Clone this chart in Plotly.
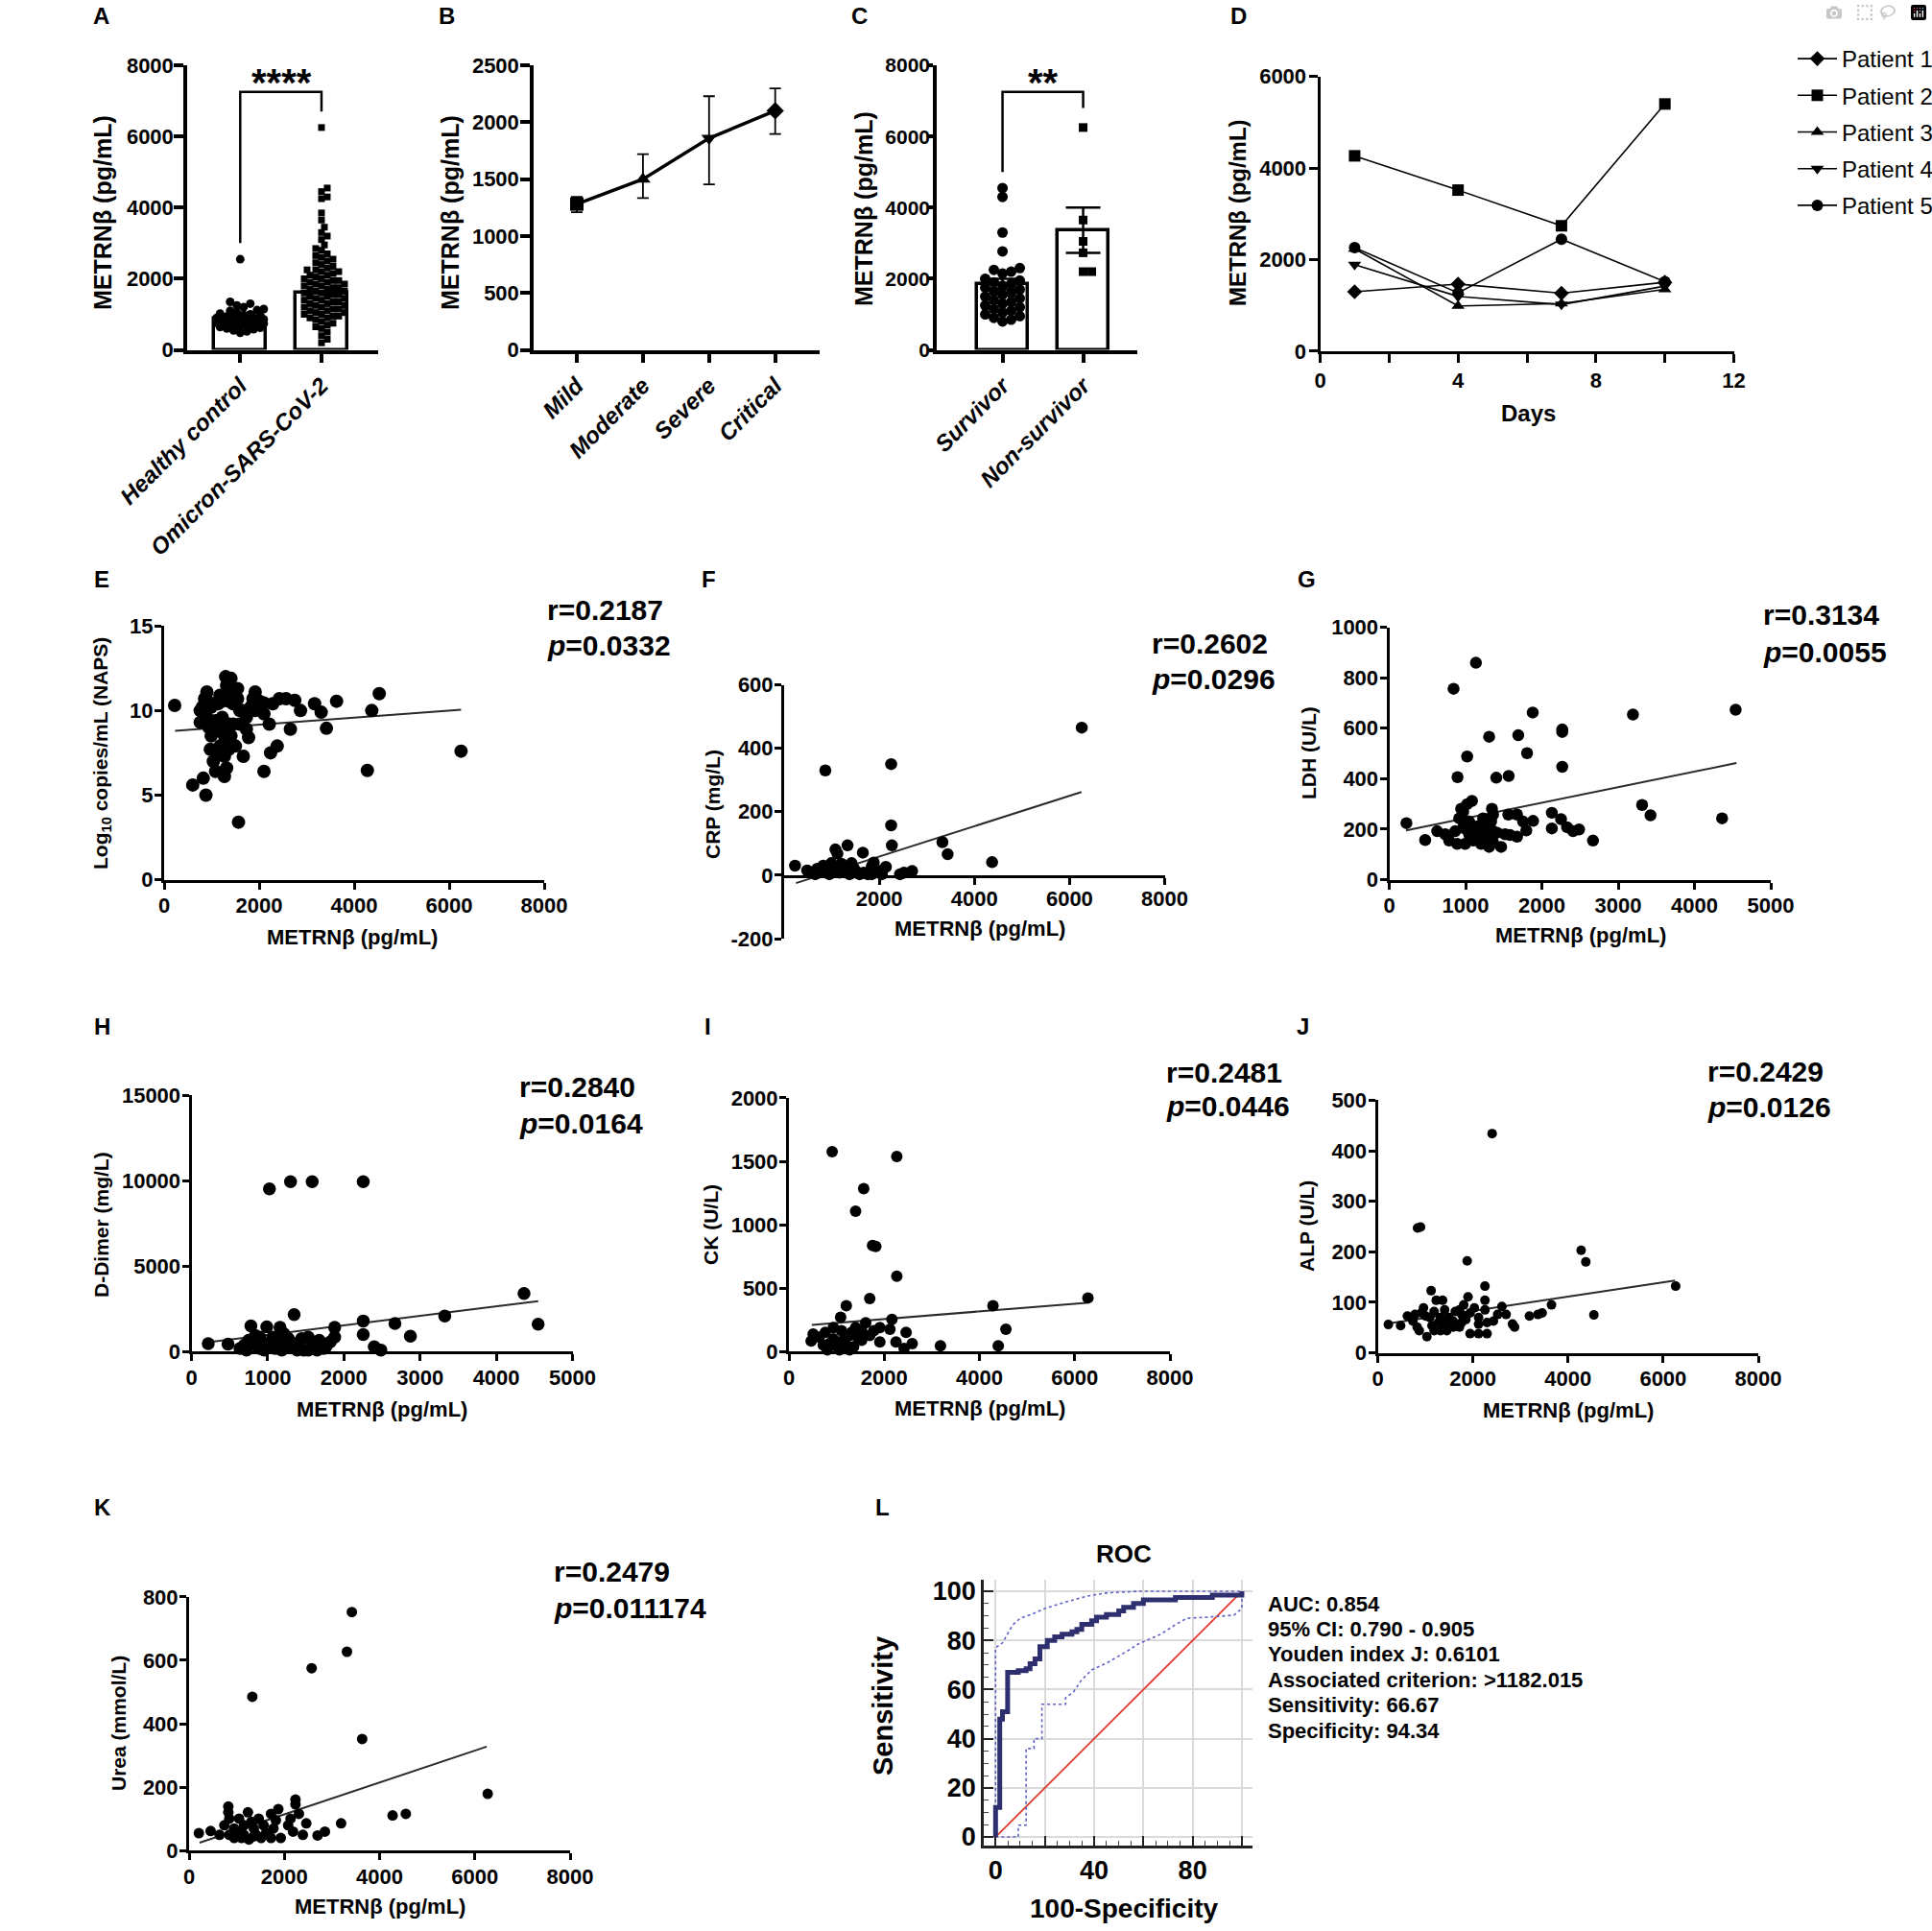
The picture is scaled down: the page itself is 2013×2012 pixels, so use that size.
import plotly.graph_objects as go

W, H = 2013, 2012
SANS = "Liberation Sans, Arial, Helvetica, sans-serif"

# ---------------- DATA ----------------
# Panel A
A_categories = ["Healthy control", "Omicron-SARS-CoV-2"]
A_bar = [870, 1600]
A_healthy = [2550, 1350, 1300, 1250, 1200, 1150, 1120, 1100, 1050, 1020, 1000, 980, 960, 940, 920,
             900, 900, 880, 870, 860, 850, 840, 820, 800, 790, 780, 760, 750, 740, 720, 700, 680,
             660, 640, 620, 600, 580, 550, 520, 480]
A_omicron = [6250, 4550, 4450, 4300, 4250, 3850, 3650, 3450, 3300, 3200, 3100, 2950, 2850, 2800, 2700,
             2650, 2600, 2550, 2500, 2450, 2400, 2350, 2300, 2250, 2250, 2200, 2200, 2150, 2100, 2100,
             2050, 2000, 2000, 1950, 1950, 1900, 1900, 1850, 1850, 1800, 1800, 1750, 1750, 1700, 1700,
             1650, 1650, 1600, 1600, 1550, 1550, 1500, 1500, 1450, 1450, 1400, 1400, 1350, 1350, 1300,
             1300, 1250, 1250, 1200, 1200, 1150, 1150, 1100, 1100, 1050, 1050, 1000, 1000, 950, 950,
             900, 900, 850, 800, 750, 700, 650, 600, 500, 400, 300, 200]
A_bracket_y = [3000, 7250, 7250, 6700]
A_sig = "****"
A_ticks = [0, 2000, 4000, 6000, 8000]

# Panel B
B_categories = ["Mild", "Moderate", "Severe", "Critical"]
B_mean = [1281, 1500, 1859, 2100]
B_hi = [1344, 1719, 2228, 2297]
B_lo = [1209, 1334, 1453, 1897]
B_symbols = ["square", "triangle-up", "triangle-down", "diamond"]
B_ticks = [0, 500, 1000, 1500, 2000, 2500]

# Panel C
C_categories = ["Survivor", "Non-survivor"]
C_bar = [1850, 3350]
C_err_hi = [2000, 4000]
C_err_lo = [1700, 2730]
C_survivor = [4550, 4300, 3300, 2770, 2300, 2250, 2200, 2150, 2000, 1950, 1900, 1850, 1800, 1750,
              1700, 1650, 1600, 1550, 1500, 1450, 1400, 1350, 1300, 1250, 1200, 1150, 1100, 1050,
              1000, 950, 900, 850, 800]
C_nonsurvivor = [6250, 3650, 3050, 2730, 2200, 2200]
C_bracket_y = [5000, 7250, 7250, 6800]
C_sig = "**"

# Panel D
D_days = [1, 4, 7, 10]
D_names = ["Patient 1", "Patient 2", "Patient 3", "Patient 4", "Patient 5"]
D_values = [
    [1296, 1465, 1265, 1504],
    [4265, 3517, 2738, 5398],
    [2236, 987, 1041, 1350],
    [1889, 1195, 1018, 1420],
    [2260, 1272, 2445, 1519],
]
D_symbols = ["diamond", "square", "triangle-up", "triangle-down", "circle"]
D_xticks = [0, 4, 8, 12]
D_yticks = [0, 2000, 4000, 6000]

# Panel E
E_x = [222, 602, 824, 880, 1565, 1667, 2102, 2241, 2380, 2658, 2871, 3167, 3306, 3417, 3630, 4278, 4371,
       4528, 6250, 1296, 900, 852, 805, 760, 991, 972, 1037, 1083, 1269, 1315, 1361, 1407, 1361, 1222,
       1130, 1176, 1315, 1407, 1454, 1546, 1593, 1732, 1824, 1870, 1917, 2009, 2102, 2213, 2287, 2426,
       2565, 2750, 1732, 1778, 1593, 1454, 1176, 898, 1083, 1269, 1176, 1130, 1269, 1361, 1500, 760,
       944, 991, 944, 1222, 1546, 1407, 1640, 1917, 2009, 2102, 1361]
E_y = [10.3, 5.6, 6.0, 5.0, 3.4, 7.3, 6.4, 7.5, 7.9, 8.9, 10.0, 10.4, 9.9, 8.95, 10.55, 6.46, 10.0, 11.0,
       7.6, 12.0, 11.1, 10.7, 10.2, 9.3, 8.5, 7.7, 7.0, 6.4, 6.1, 6.6, 7.7, 8.5, 9.2, 9.6, 10.4, 10.9,
       11.5, 11.1, 10.4, 10.7, 10.0, 9.6, 10.2, 10.7, 11.1, 10.55, 9.8, 9.2, 10.4, 10.7, 10.7, 10.6, 8.9,
       8.4, 9.2, 9.2, 8.9, 9.6, 9.4, 8.5, 7.9, 7.4, 7.3, 8.2, 7.9, 10.0, 9.0, 10.2, 10.5, 10.55, 11.3,
       11.9, 10.0, 10.0, 10.2, 10.45, 10.55]
E_fit_x = [230, 6250]
E_fit_y = [8.8, 10.05]
E_stats = ["r=0.2187", "<i>p</i>=0.0332"]

# Panel F
F_x = [6257, 2250, 866, 2250, 2265, 3328, 3438, 4372, 1333, 1078, 1120, 1655, 1885, 2139, 2691, 2436,
       229, 484, 823, 993, 1248, 1503, 1672, 1842, 2012, 654, 951, 1163, 1375, 1588, 1757, 781, 1036,
       1205, 1460, 1842, 2521, 2054, 951, 1333, 696, 1418]
F_y = [465, 350, 330, 157, 94, 104, 66, 41, 94, 81, 68, 71, 40, 26, 13, 3, 30, 15, 30, 38, 23, 13, 8,
       28, 13, 3, 3, 8, 3, 3, 3, 13, 23, 36, 23, 3, 8, 3, 18, 13, 20, 38]
F_fit_x = [250, 6250]
F_fit_y = [-25, 262]
F_stats = ["r=0.2602", "<i>p</i>=0.0296"]
F_yticks = [-200, 0, 200, 400, 600]
F_yticktext = ["-200", "0", "200", "400", "600"]

# Panel G
G_x = [1136, 843, 1880, 3194, 4540, 2267, 2267, 1309, 1691, 1806, 1021, 2267, 895, 1403, 1565, 1084,
       1346, 3314, 3424, 4362, 225, 471, 2670, 2131, 2131, 2251, 2330, 2487, 2409, 1885, 1796, 1675,
       1581, 1560, 1675, 1754, 1466, 1309, 1204, 1100, 995, 890, 785, 628, 733, 864, 969, 969, 916,
       1047, 1152, 1257, 1361, 1335, 1257, 1361, 1152, 1047, 1230, 1414, 1518, 1361, 969, 1100, 1021,
       942, 1283, 1204]
G_y = [859, 756, 662, 654, 673, 595, 585, 566, 572, 501, 488, 447, 406, 404, 411, 312, 281, 296, 255,
       243, 224, 157, 155, 265, 203, 240, 208, 199, 192, 233, 195, 170, 177, 258, 258, 230, 130, 130,
       142, 155, 142, 142, 155, 192, 180, 192, 205, 268, 243, 230, 211, 205, 192, 230, 180, 148, 180,
       180, 243, 186, 180, 258, 230, 205, 299, 281, 167, 199]
G_fit_x = [220, 4550]
G_fit_y = [195, 462]
G_stats = ["r=0.3134", "<i>p</i>=0.0055"]

# Panel H
H_x = [1023, 1300, 1584, 2254, 4364, 4549, 3324, 2670, 2873, 2254, 2254, 1347, 780, 988, 1162, 1879,
       1879, 2399, 2485, 220, 480, 636, 751, 838, 896, 954, 1040, 1098, 1185, 1272, 1329, 1416, 1474,
       1532, 1590, 1676, 1763, 1821, 1532, 954, 1185, 722, 896, 1069, 1243, 1387, 1647, 1734, 1069,
       838, 1214, 1445, 694]
H_y = [9530, 9945, 9945, 9945, 3397, 1604, 2076, 1642, 906, 1793, 1000, 2170, 1510, 1453, 1415, 1415,
       849, 283, 94, 472, 434, 189, 660, 377, 849, 283, 566, 189, 472, 755, 283, 566, 94, 849, 377, 660,
       283, 566, 94, 94, 94, 94, 189, 377, 283, 94, 94, 189, 849, 943, 1038, 755, 377]
H_fit_x = [220, 4550]
H_fit_y = [550, 2950]
H_stats = ["r=0.2840", "<i>p</i>=0.0164"]

# Panel I
I_x = [908, 2265, 1570, 1400, 1756, 1824, 2265, 1205, 1697, 6278, 4284, 4556, 1086, 2163, 467, 3181,
       4395, 2588, 2418, 2248, 2460, 2121, 1909, 1909, 1612, 1527, 1400, 1273, 1103, 933, 764, 636,
       848, 1018, 1188, 1357, 1527, 1697, 1782, 721, 933, 1145, 1315, 1442, 509, 806, 1060, 1273]
I_y = [1575, 1537, 1284, 1106, 836, 828, 595, 362, 418, 423, 362, 177, 271, 253, 84, 46, 46, 63, 25,
       76, 152, 177, 190, 76, 228, 165, 190, 127, 165, 190, 152, 114, 63, 38, 63, 38, 89, 127, 165, 51,
       101, 89, 152, 114, 139, 13, 13, 13]
I_fit_x = [480, 6250]
I_fit_y = [210, 385]
I_stats = ["r=0.2481", "<i>p</i>=0.0446"]

# Panel J
J_x = [2405, 837, 900, 1880, 4276, 4374, 6263, 2254, 1122, 3653, 4544, 1898, 2254, 2254, 1229, 1363,
       223, 481, 624, 3189, 3368, 3456, 2833, 2877, 2432, 2610, 2699, 2521, 2298, 2120, 2298, 2120,
       1942, 1719, 1586, 1452, 1033, 828, 739, 918, 962, 1096, 1185, 1318, 1407, 1496, 1630, 1764,
       1808, 1942, 1719, 784, 1007, 1140, 1274, 1407, 1586, 1764, 1853, 873, 1185, 1318, 2120, 2031]
J_y = [434, 247, 249, 182, 203, 180, 132, 132, 123, 95, 75, 111, 104, 85, 104, 104, 56, 54, 73, 73, 76,
       79, 57, 51, 63, 92, 76, 76, 60, 70, 38, 38, 38, 51, 63, 44, 32, 51, 63, 79, 89, 70, 82, 70, 85,
       70, 82, 76, 95, 79, 85, 76, 73, 54, 60, 57, 51, 60, 66, 44, 44, 44, 57, 89]
J_fit_x = [220, 6250]
J_fit_y = [58, 143]
J_stats = ["r=0.2429", "<i>p</i>=0.0126"]

# Panel K
K_x = [3418, 3315, 2574, 1328, 3634, 6270, 4273, 4551, 3192, 2234, 2234, 2306, 206, 453, 824, 824,
       1874, 1720, 1462, 1236, 2461, 2698, 2852, 1925, 1720, 1256, 1102, 844, 947, 1153, 1359, 1565,
       1771, 2080, 2389, 639, 1050, 998, 741, 1410, 1617, 1822, 2131, 2183, 1308, 1513, 947, 1153, 844,
       1359]
K_y = [752, 627, 575, 485, 352, 179, 111, 116, 86, 161, 146, 116, 55, 62, 139, 121, 131, 116, 101, 121,
       86, 48, 60, 40, 40, 35, 40, 50, 70, 80, 70, 80, 70, 80, 50, 50, 101, 60, 80, 50, 55, 96, 101, 60,
       91, 40, 40, 50, 101, 45]
K_fit_x = [220, 6250]
K_fit_y = [25, 328]
K_stats = ["r=0.2479", "<i>p</i>=0.011174"]

# Panel L (ROC)
L_fpr = [0, 0, 1.7, 1.7, 2.8, 2.8, 4.9, 4.9, 9.2, 9.2, 12.4, 12.4, 14, 14, 16, 16, 18, 18, 21, 21, 24,
         24, 27, 27, 31, 31, 33, 33, 35, 35, 39, 39, 41, 41, 45, 45, 50, 50, 52, 52, 56, 56, 60, 60, 73,
         73, 88, 88, 100, 100]
L_sens = [0, 12, 12, 48, 48, 51, 51, 67, 67, 67.7, 67.7, 68.5, 68.5, 70.5, 70.5, 72.5, 72.5, 77.5, 77.5,
          80, 80, 81.5, 81.5, 82.5, 82.5, 83.5, 83.5, 84.5, 84.5, 86.5, 86.5, 88, 88, 89.5, 89.5, 90.5,
          90.5, 92, 92, 93.5, 93.5, 95, 95, 96.5, 96.5, 97.5, 97.5, 98.5, 98.5, 100]
L_up_x = [0, 0, 2.8, 4.9, 7, 10, 15.6, 20, 28, 37, 45.5, 58, 100]
L_up_y = [0, 77, 79, 82.5, 86.4, 89, 91, 93, 95.5, 98, 99.4, 100, 100]
L_lo_x = [0, 9.2, 9.2, 12.4, 12.4, 15.6, 15.6, 18.8, 18.8, 28.4, 28.4, 31.6, 35, 39, 45.5, 49.8, 54, 58,
          67, 73, 77.6, 88, 96.8, 100, 100]
L_lo_y = [0, 0, 4.8, 4.8, 36, 36, 40, 40, 54, 54, 56.6, 59, 64, 68, 71, 73.4, 76, 78.6, 82.5, 86.4, 89,
          89.6, 90.3, 93, 100]
L_diag = [0, 100]
L_xticks_labeled = [0, 40, 80]
L_xticks_plain = [20, 60, 100]
L_yticks = [0, 20, 40, 60, 80, 100]
L_stats = ["AUC: 0.854", "95% CI: 0.790 - 0.905", "Youden index J: 0.6101",
           "Associated criterion: >1182.015", "Sensitivity: 66.67", "Specificity: 94.34"]

# ---------------- HELPERS ----------------
def swarm(vals, xpx, ypx, d, maxhalf):
    order = sorted(range(len(vals)), key=lambda i: vals[i])
    placed = []
    offs = [0.0] * len(vals)
    cands = [0.0]
    k = 1
    while k * d * 0.5 <= maxhalf:
        cands += [k * d * 0.5, -k * d * 0.5]
        k += 1
    for i in order:
        y = vals[i] * ypx
        best = None
        for c in cands:
            if all((c - px) ** 2 + (y - py) ** 2 >= d * d for px, py in placed):
                best = c
                break
        if best is None:
            best = max(cands, key=lambda c: min((c - px) ** 2 + (y - py) ** 2 for px, py in placed))
        placed.append((best, y))
        offs[i] = best / xpx
    return offs


def ann(text, x, y, size, bold=True, italic=False, xa="center", ya="middle", angle=0):
    return dict(text=text, x=x / W, y=1 - y / H, xref="paper", yref="paper", showarrow=False,
                xanchor=xa, yanchor=ya, textangle=angle,
                font=dict(family=SANS, size=size, color="black",
                          weight="bold" if bold else "normal",
                          style="italic" if italic else "normal"))


layout = {}


def axes(i, xpx, ypx, xr, yr, xkw, ykw, lw=3, tl=8, tfont=None):
    s = "" if i == 1 else str(i)
    base = dict(showline=True, linecolor="black", linewidth=lw, showgrid=False, zeroline=False,
                ticks="outside", ticklen=tl, tickwidth=lw, tickcolor="black", fixedrange=True,
                tickfont=tfont)
    xd = dict(base)
    xd.update(domain=[xpx[0] / W, xpx[1] / W], range=xr, anchor="y" + s)
    xd.update(xkw)
    yd = dict(base)
    yd.update(domain=[1 - ypx[1] / H, 1 - ypx[0] / H], range=yr, anchor="x" + s)
    yd.update(ykw)
    layout["xaxis" + s] = xd
    layout["yaxis" + s] = yd
    return ("x" + s, "y" + s)


def fnt(size, italic=False):
    return dict(family=SANS, size=size, color="black", weight="bold", style="italic" if italic else "normal")


fig = go.Figure()
annotations = []
FCAT = fnt(24, italic=True)

# ---------------- Panel A ----------------
xa, ya = axes(1, (195, 394), (68, 364.6), [-0.653, 1.697], [0, 8000],
              dict(tickvals=[0, 1], ticktext=A_categories, tickangle=-45, tickfont=FCAT),
              dict(tickvals=A_ticks, tickformat="d", ticklabelstandoff=-4), lw=3.5, tl=10, tfont=fnt(22))
fig.add_trace(go.Bar(x=[0, 1], y=A_bar, width=0.64, marker=dict(color="white", line=dict(color="black", width=3.5)),
                     xaxis=xa, yaxis=ya, showlegend=False))
ypxA = 296.6 / 8000
offs = swarm(A_healthy, 84.7, ypxA, 7, 25)
fig.add_trace(go.Scatter(x=[0 + o for o in offs], y=A_healthy, mode="markers",
                         marker=dict(symbol="circle", size=9, color="black"), cliponaxis=False,
                         xaxis=xa, yaxis=ya, showlegend=False))
offs = swarm(A_omicron, 84.7, ypxA, 6, 25)
fig.add_trace(go.Scatter(x=[1 + o for o in offs], y=A_omicron, mode="markers",
                         marker=dict(symbol="square", size=7, color="black"), cliponaxis=False,
                         xaxis=xa, yaxis=ya, showlegend=False))
fig.add_trace(go.Scatter(x=[0, 0, 1, 1], y=A_bracket_y, mode="lines", line=dict(color="black", width=2.5),
                         xaxis=xa, yaxis=ya, showlegend=False))

# ---------------- Panel B ----------------
xb, yb = axes(2, (556, 854), (68, 364.6), [-0.653, 3.672], [0, 2500],
              dict(tickvals=list(range(len(B_categories))), ticktext=B_categories, tickangle=-45, tickfont=FCAT),
              dict(tickvals=B_ticks, tickformat="d", ticklabelstandoff=-3), lw=3.5, tl=10, tfont=fnt(22))
fig.add_trace(go.Scatter(x=list(range(len(B_categories))), y=B_mean, mode="lines+markers",
                         line=dict(color="black", width=3.5),
                         marker=dict(symbol=B_symbols, size=14, color="black"),
                         error_y=dict(type="data", symmetric=False,
                                      array=[h - m for h, m in zip(B_hi, B_mean)],
                                      arrayminus=[m - l for m, l in zip(B_mean, B_lo)],
                                      color="black", thickness=1.8, width=6),
                         cliponaxis=False, xaxis=xb, yaxis=yb, showlegend=False))

# ---------------- Panel C ----------------
xc, yc = axes(3, (976, 1185), (68, 364.6), [-0.816, 1.672], [0, 8000],
              dict(tickvals=[0, 1], ticktext=C_categories, tickangle=-45, tickfont=FCAT),
              dict(tickvals=A_ticks, tickformat="d", ticklen=6, ticklabelstandoff=-7), lw=3.5, tl=10, tfont=fnt(21))
fig.add_trace(go.Bar(x=[0, 1], y=C_bar, width=0.64, marker=dict(color="white", line=dict(color="black", width=3.5)),
                     error_y=dict(type="data", symmetric=False,
                                  array=[h - m for h, m in zip(C_err_hi, C_bar)],
                                  arrayminus=[m - l for m, l in zip(C_bar, C_err_lo)],
                                  color="black", thickness=2.5, width=18),
                     xaxis=xc, yaxis=yc, showlegend=False))
offs = swarm(C_survivor, 84, ypxA, 9, 24)
fig.add_trace(go.Scatter(x=[0 + o for o in offs], y=C_survivor, mode="markers",
                         marker=dict(symbol="circle", size=11, color="black"), cliponaxis=False,
                         xaxis=xc, yaxis=yc, showlegend=False))
offs = swarm(C_nonsurvivor, 84, ypxA, 9, 18)
fig.add_trace(go.Scatter(x=[1 + o for o in offs], y=C_nonsurvivor, mode="markers",
                         marker=dict(symbol="square", size=9, color="black"), cliponaxis=False,
                         xaxis=xc, yaxis=yc, showlegend=False))
fig.add_trace(go.Scatter(x=[0, 0, 1, 1], y=C_bracket_y, mode="lines", line=dict(color="black", width=2.5),
                         xaxis=xc, yaxis=yc, showlegend=False))

# ---------------- Panel D ----------------
xdd, ydd = axes(4, (1375.5, 1806.5), (79.6, 365.9), [0, 12], [0, 6000],
                dict(tickvals=D_xticks, minor=dict(dtick=2, tick0=0, ticks="outside", ticklen=9,
                                                   tickwidth=3, tickcolor="black")),
                dict(tickvals=D_yticks, tickformat="d", ticklabelstandoff=-2), lw=3, tl=9, tfont=fnt(22))
for name, vals, sym in zip(D_names, D_values, D_symbols):
    fig.add_trace(go.Scatter(x=D_days, y=vals, mode="lines+markers", name=name, legendgroup=name,
                             line=dict(color="black", width=1.6),
                             marker=dict(symbol=sym, size=12, color="black"), cliponaxis=False,
                             xaxis=xdd, yaxis=ydd, showlegend=True))

# ---------------- Scatter panels ----------------
TF = fnt(22)


def scatter_panel(i, xpx, ypx, xr, yr, xt, yt, X, Y, fx, fy, msize, xkw_extra=None, ykw_extra=None):
    xkw = dict(tickvals=xt, tickformat="d", ticklabelstandoff=-2)
    if xkw_extra:
        xkw.update(xkw_extra)
    ykw = dict(tickvals=yt, tickformat="d", ticklabelstandoff=-3)
    if ykw_extra:
        ykw.update(ykw_extra)
    xx, yy = axes(i, xpx, ypx, xr, yr, xkw, ykw, lw=3, tl=7, tfont=TF)
    fig.add_trace(go.Scatter(x=fx, y=fy, mode="lines", line=dict(color="#2a2a2a", width=2),
                             xaxis=xx, yaxis=yy, showlegend=False))
    fig.add_trace(go.Scatter(x=X, y=Y, mode="markers", marker=dict(size=msize, color="black"),
                             cliponaxis=False, xaxis=xx, yaxis=yy, showlegend=False))


x8k = [0, 2000, 4000, 6000, 8000]
x5k = [0, 1000, 2000, 3000, 4000, 5000]
scatter_panel(5, (171, 567), (652.2, 916.6), [0, 8000], [0, 15], x8k, [0, 5, 10, 15],
              E_x, E_y, E_fit_x, E_fit_y, 14)
scatter_panel(6, (817, 1213.5), (713.5, 978), [0, 8000], [-200, 600], [2000, 4000, 6000, 8000], F_yticks,
              F_x, F_y, F_fit_x, F_fit_y, 12.5,
              xkw_extra=dict(anchor="free", position=1 - 913.3 / H, ticklabelstandoff=-5),
              ykw_extra=dict(ticktext=F_yticktext))
scatter_panel(7, (1447.5, 1845), (653.5, 916.6), [0, 5000], [0, 1000], x5k, [0, 200, 400, 600, 800, 1000],
              G_x, G_y, G_fit_x, G_fit_y, 12.5)
scatter_panel(8, (199.5, 596.5), (1141.3, 1408.3), [0, 5000], [0, 15000], x5k, [0, 5000, 10000, 15000],
              H_x, H_y, H_fit_x, H_fit_y, 13.5)
scatter_panel(9, (822, 1219), (1143.9, 1408.3), [0, 8000], [0, 2000], x8k, [0, 500, 1000, 1500, 2000],
              I_x, I_y, I_fit_x, I_fit_y, 12)
scatter_panel(10, (1435.5, 1832), (1146.4, 1409.6), [0, 8000], [0, 500], x8k, [0, 100, 200, 300, 400, 500],
              J_x, J_y, J_fit_x, J_fit_y, 10)
scatter_panel(11, (197, 594), (1663.8, 1928.3), [0, 8000], [0, 800], x8k, [0, 200, 400, 600, 800],
              K_x, K_y, K_fit_x, K_fit_y, 11)

# ---------------- Panel L (ROC) ----------------
FL = fnt(27)
Lx_dom = [1025 / W, 1305 / W]
Ly_dom = [1 - 1923 / H, 1 - 1645.5 / H]
layout["xaxis12"] = dict(domain=Lx_dom, range=[-4.8, 104.3], anchor="y12",
                         showline=True, linecolor="#222", linewidth=2.5, zeroline=False,
                         showgrid=True, gridcolor="#dadada", gridwidth=1.5,
                         tickvals=L_xticks_labeled, ticks="inside", ticklen=10,
                         tickwidth=1.5, tickcolor="#222", tickfont=FL, fixedrange=True,
                         minor=dict(dtick=5, tick0=0, ticks="inside", ticklen=5, tickwidth=1.2,
                                    tickcolor="#444", showgrid=False))
layout["xaxis13"] = dict(domain=Lx_dom, range=[-4.8, 104.3], anchor="y12", overlaying="x12",
                         showline=False, zeroline=False, showticklabels=False,
                         showgrid=True, gridcolor="#dadada", gridwidth=1.5,
                         tickvals=L_xticks_plain, ticks="inside", ticklen=10,
                         tickwidth=1.5, tickcolor="#222", fixedrange=True)
layout["yaxis12"] = dict(domain=Ly_dom, range=[-3.5, 104.9], anchor="x12",
                         showline=True, linecolor="#222", linewidth=2.5, zeroline=False,
                         showgrid=True, gridcolor="#dadada", gridwidth=1.5,
                         tickvals=L_yticks, ticks="inside", ticklen=10,
                         tickwidth=1.5, tickcolor="#222", tickfont=FL, fixedrange=True,
                         minor=dict(dtick=5, tick0=0, ticks="inside", ticklen=5, tickwidth=1.2,
                                    tickcolor="#444", showgrid=False))
fig.add_trace(go.Scatter(x=[], y=[], mode="lines", xaxis="x13", yaxis="y12", showlegend=False))
fig.add_trace(go.Scatter(x=L_diag, y=L_diag, mode="lines", line=dict(color="#e2392a", width=1.8),
                         xaxis="x12", yaxis="y12", showlegend=False))
fig.add_trace(go.Scatter(x=L_up_x, y=L_up_y, mode="lines", line=dict(color="#5d62c4", width=1.6, dash="dot"),
                         xaxis="x12", yaxis="y12", showlegend=False))
fig.add_trace(go.Scatter(x=L_lo_x, y=L_lo_y, mode="lines", line=dict(color="#5d62c4", width=1.6, dash="dot"),
                         xaxis="x12", yaxis="y12", showlegend=False))
fig.add_trace(go.Scatter(x=L_fpr, y=L_sens, mode="lines", line=dict(color="#2d2f6f", width=5),
                         cliponaxis=False, xaxis="x12", yaxis="y12", showlegend=False))

# ---------------- Annotations ----------------
letters = [("A", 105, 17), ("B", 465, 17), ("C", 895, 17), ("D", 1290, 17),
           ("E", 106, 604), ("F", 738, 604), ("G", 1361, 604),
           ("H", 106, 1069), ("I", 737, 1069), ("J", 1357, 1069),
           ("K", 107, 1570), ("L", 919, 1570)]
for t, x, y in letters:
    annotations.append(ann(t, x, y, 24))

annotations.append(ann(A_sig, 293, 86, 40))
annotations.append(ann(C_sig, 1087, 86, 40))

ytitle = "METRN\u03b2 (pg/mL)"
annotations.append(ann(ytitle, 107, 222, 25, angle=-90))
annotations.append(ann(ytitle, 469, 222, 25, angle=-90))
annotations.append(ann(ytitle, 900, 218, 25, angle=-90))
annotations.append(ann(ytitle, 1289, 222, 24, angle=-90))
annotations.append(ann("Log<sub>10</sub> copies/mL (NAPS)", 106, 785, 21, angle=-90))
annotations.append(ann("CRP (mg/L)", 742, 838, 21, angle=-90))
annotations.append(ann("LDH (U/L)", 1364, 785, 21, angle=-90))
annotations.append(ann("D-Dimer (mg/L)", 105, 1276, 21, angle=-90))
annotations.append(ann("CK (U/L)", 740, 1276, 21, angle=-90))
annotations.append(ann("ALP (U/L)", 1361, 1278, 21, angle=-90))
annotations.append(ann("Urea (mmol/L)", 123, 1796, 21, angle=-90))
annotations.append(ann("Sensitivity", 920, 1778, 29, angle=-90))

xtitle = "METRN\u03b2 (pg/mL)"
annotations.append(ann("Days", 1592, 430, 24))
for x, y in [(367, 976), (1021, 968), (1647, 974), (398, 1468), (1021, 1467), (1634, 1469), (396, 1986)]:
    annotations.append(ann(xtitle, x, y, 22))
annotations.append(ann("100-Specificity", 1171, 1988, 28))
annotations.append(ann("ROC", 1171, 1619, 26))

for stats, x, yr_, yp_ in [(E_stats, 568, 635, 672), (F_stats, 1198, 670, 707), (G_stats, 1835, 641, 679),
                           (H_stats, 539, 1132, 1170), (I_stats, 1213, 1117, 1152), (J_stats, 1777, 1116, 1153),
                           (K_stats, 575, 1637, 1675)]:
    annotations.append(ann(stats[0], x, yr_, 30, xa="left"))
    annotations.append(ann(stats[1], x, yp_, 30, xa="left"))

for j, t in enumerate(L_stats):
    annotations.append(ann(t, 1319, 1671 + j * 26.4, 22, xa="left"))

fig.update_layout(**layout)
fig.update_layout(
    width=W, height=H, margin=dict(l=0, r=0, t=0, b=0, autoexpand=False),
    paper_bgcolor="white", plot_bgcolor="white",
    annotations=annotations,
    legend=dict(x=1868 / W, y=1 - 39 / H, xanchor="left", yanchor="top",
                font=dict(family=SANS, size=24, color="black"),
                bgcolor="rgba(0,0,0,0)", itemwidth=41, traceorder="grouped", tracegroupgap=4),
    font=dict(family=SANS, color="black"),
    bargap=0,
)

fig.write_html("out.html", post_script="document.body.style.margin='0';document.body.style.overflow='hidden';")
